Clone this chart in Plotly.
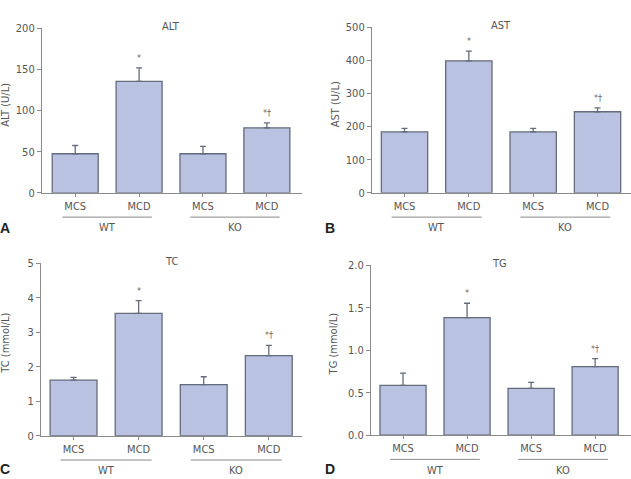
import plotly.graph_objects as go

W, H = 631, 479

groups = ["MCS", "MCD", "MCS", "MCD"]
genotypes = ["WT", "KO"]

alt_mean = [47.5, 135.5, 47.5, 79.0]
alt_err = [10.0, 16.5, 9.0, 6.0]
ast_mean = [184, 399, 184, 245]
ast_err = [11, 29, 11, 12]
tc_mean = [1.61, 3.55, 1.48, 2.32]
tc_err = [0.08, 0.37, 0.23, 0.30]
tg_mean = [0.585, 1.384, 0.55, 0.807]
tg_err = [0.145, 0.17, 0.07, 0.095]
sig_marks = ["", "*", "", "*†"]

titles = ["ALT", "AST", "TC", "TG"]
ylabels = ["ALT (U/L)", "AST (U/L)", "TC (mmol/L)", "TG (mmol/L)"]
letters = ["A", "B", "C", "D"]
y_ticks = [[0, 50, 100, 150, 200], [0, 100, 200, 300, 400, 500],
           [0, 1, 2, 3, 4, 5], [0.0, 0.5, 1.0, 1.5, 2.0]]
y_ticktext = [["0", "50", "100", "150", "200"], ["0", "100", "200", "300", "400", "500"],
              ["0", "1", "2", "3", "4", "5"], ["0.0", "0.5", "1.0", "1.5", "2.0"]]

means = [alt_mean, ast_mean, tc_mean, tg_mean]
errs = [alt_err, ast_err, tc_err, tg_err]

# layout in pixels: (x_left, x_right, y_top, y_bottom)
boxes = [(42, 302, 23, 192), (372, 631, 22, 192), (41, 302, 264.5, 441.7), (371, 631, 266.7, 441)]
xranges = [[-0.52, 3.55], [-0.505, 3.52], [-0.5, 3.51], [-0.5, 3.56]]
letter_pos = [(5, 228), (330, 228), (5, 476), (330, 476)]
ylab_x = [6, 335, 6, 333]

FONT = "DejaVu Sans Condensed, Liberation Sans Narrow, sans-serif"
TXT = "#555555"
AX = "#8a8a8a"
FILL = "#b9c2e1"
EDGE = "#646b7c"
FS = 11

fig = go.Figure()
shapes = []
annotations = []

for i in range(4):
    n = "" if i == 0 else str(i + 1)
    xa, ya = "x" + n, "y" + n
    x0, x1, yt, yb = boxes[i]
    fig.add_trace(go.Bar(
        x=[0, 1, 2, 3], y=means[i], width=0.72,
        marker=dict(color=FILL, line=dict(color=EDGE, width=1.3)),
        error_y=dict(type="data", symmetric=False, array=errs[i],
                     arrayminus=[0, 0, 0, 0], color=EDGE, thickness=1.3, width=3),
        xaxis=xa, yaxis=ya, showlegend=False))
    ymax = y_ticks[i][-1]
    fig.layout["xaxis" + n] = dict(
        domain=[x0 / W, x1 / W], range=xranges[i], anchor=ya,
        tickvals=[0, 1, 2, 3], ticktext=groups, ticks="outside", ticklen=3,
        tickcolor=AX, showline=True, linecolor=AX, linewidth=1.2,
        showgrid=False, zeroline=False, fixedrange=True,
        tickfont=dict(family=FONT, size=FS, color=TXT))
    fig.layout["yaxis" + n] = dict(
        domain=[1 - yb / H, 1 - yt / H], range=[0, ymax], anchor=xa,
        tickvals=y_ticks[i], ticktext=y_ticktext[i], ticks="outside", ticklen=4,
        tickcolor=AX, showline=True, linecolor=AX, linewidth=1.2,
        showgrid=False, zeroline=False, fixedrange=True,
        tickfont=dict(family=FONT, size=FS, color=TXT))
    hpx = yb - yt
    for g, c in enumerate([0.5, 2.5]):
        shapes.append(dict(type="line", xref=xa, yref=ya + " domain",
                           x0=c - 0.7, x1=c + 0.7, y0=-25 / hpx, y1=-25 / hpx,
                           line=dict(color=AX, width=1)))
        annotations.append(dict(x=c, y=-36 / hpx, xref=xa, yref=ya + " domain",
                                text=genotypes[g], showarrow=False, yanchor="middle",
                                font=dict(family=FONT, size=FS, color=TXT)))
    annotations.append(dict(x=1.5, y=1.01, xref=xa, yref=ya + " domain",
                            text=titles[i], showarrow=False, yanchor="middle",
                            font=dict(family=FONT, size=FS, color=TXT)))
    annotations.append(dict(x=ylab_x[i] / W, y=1 - ((yt + yb) / 2 - 6) / H,
                            xref="paper", yref="paper", text=ylabels[i],
                            textangle=-90, showarrow=False,
                            xanchor="center", yanchor="middle",
                            font=dict(family=FONT, size=FS, color=TXT)))
    for k in range(4):
        if sig_marks[k]:
            annotations.append(dict(x=k, y=means[i][k] + errs[i][k], xref=xa, yref=ya,
                                    text=sig_marks[k], showarrow=False,
                                    yanchor="bottom", yshift=3,
                                    font=dict(family=FONT, size=9, color="#666666")))
    lx, ly = letter_pos[i]
    annotations.append(dict(x=lx / W, y=1 - ly / H, xref="paper", yref="paper",
                            text="<b>" + letters[i] + "</b>", showarrow=False,
                            xanchor="center", yanchor="middle",
                            font=dict(family="Liberation Sans, Arial, sans-serif",
                                      size=14, color="#222222")))

fig.update_layout(
    width=W, height=H, margin=dict(l=0, r=0, t=0, b=0),
    paper_bgcolor="white", plot_bgcolor="white",
    shapes=shapes, annotations=annotations, bargap=0.28)

fig.write_html("out.html")
